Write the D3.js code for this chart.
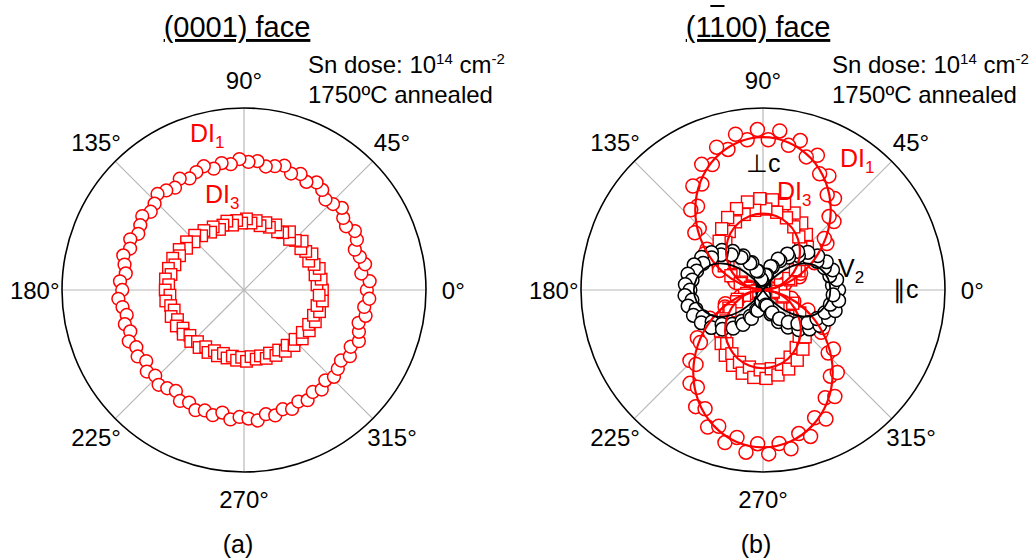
<!DOCTYPE html>
<html>
<head>
<meta charset="utf-8">
<script src="https://cdn.jsdelivr.net/npm/d3@7"></script>
<style>
  body { margin: 0; background: #fff; }
  svg { display: block; font-family: "Liberation Sans", Arial, sans-serif; }
</style>
</head>
<body>
<svg id="chart" width="1034" height="558"></svg>
<script>
// measurement angles (deg), shared by every data series
const angles = [0,4,8,12,16,20,24,28,32,36,40,44,48,52,56,60,64,68,72,76,80,84,88,92,96,100,104,108,112,116,
  120,124,128,132,136,140,144,148,152,156,160,164,168,172,176,180,184,188,192,196,200,204,208,212,216,220,224,228,232,236,
  240,244,248,252,256,260,264,268,272,276,280,284,288,292,296,300,304,308,312,316,320,324,328,332,336,340,344,348,352,356];
const fitAngles = [0,10,20,30,40,50,60,70,80,90,100,110,120,130,140,150,160,170,
  180,190,200,210,220,230,240,250,260,270,280,290,300,310,320,330,340,350];

const tickAngles = [0, 45, 90, 135, 180, 225, 270, 315];
const tickLabels = ['0°', '45°', '90°', '135°', '180°', '225°', '270°', '315°'];

// (0001) face, intensity (outer circle = 100)
const basalDI1 = [67.5,69.2,65.1,68.0,66.2,64.8,67.9,69.0,66.1,67.4,
  70.2,68.0,66.9,69.8,71.3,68.6,70.9,69.0,71.8,70.1,
  68.9,71.2,70.4,72.0,69.5,70.8,68.7,71.5,69.9,68.2,
  70.6,67.8,69.4,71.0,68.3,66.9,69.1,67.2,65.8,68.4,
  66.6,69.0,67.1,65.6,68.3,66.9,69.2,67.4,65.9,68.1,
  66.5,69.3,67.0,68.9,66.4,69.7,67.8,70.1,68.5,66.9,
  70.4,68.8,71.2,69.6,70.9,68.4,71.5,69.8,70.7,72.1,
  69.3,71.0,68.9,70.5,68.2,69.9,67.6,69.4,66.8,68.7,
  67.3,65.9,68.6,66.4,69.1,67.2,65.5,68.3,66.7,69.0];
const basalDI3 = [43.1,40.2,42.8,39.9,43.0,41.0,38.9,42.3,40.0,38.6,
  41.7,39.2,37.4,40.6,38.0,36.9,39.8,37.2,38.9,36.4,
  38.7,37.0,39.1,36.8,38.4,36.2,39.0,37.5,35.9,38.6,
  36.7,39.4,37.8,40.5,38.1,41.2,39.0,42.0,40.1,42.9,
  40.4,43.2,41.0,43.6,41.5,43.3,40.8,43.4,41.2,39.9,
  42.6,40.0,42.1,39.5,41.3,38.8,40.7,38.2,40.1,37.6,
  39.6,37.1,39.0,36.6,38.5,36.9,38.8,37.0,39.2,36.8,
  38.6,37.3,39.5,37.4,40.0,38.1,40.6,38.5,41.1,39.0,
  41.8,39.6,42.3,40.2,42.9,40.6,43.2,41.0,43.5,41.4];

// (1-100) face
const mDI1 = [1.0,2.8,4.6,11.2,12.5,21.3,22.6,32.0,33.1,43.4,
  44.0,54.2,54.3,63.8,63.1,72.4,71.0,79.8,76.9,84.6,
  80.7,87.9,82.6,88.2,83.0,86.9,79.6,82.5,74.3,76.8,
  67.2,68.9,58.4,59.3,48.7,48.9,38.1,37.6,27.3,26.2,
  17.1,15.8,8.1,6.7,1.4,0.8,3.0,4.4,11.5,12.9,
  22.0,22.8,33.1,33.5,44.6,44.9,55.8,55.0,65.1,64.5,
  74.0,72.6,81.2,78.7,86.4,82.3,89.6,84.5,90.1,84.8,
  88.6,81.3,84.6,75.7,78.9,68.4,70.6,60.1,61.0,49.8,
  50.5,39.5,38.9,28.4,27.0,18.0,16.2,8.7,6.9,2.1];
const mDI3 = [0.5,3.6,4.1,9.9,10.0,16.2,15.5,22.4,21.0,28.6,
  26.1,33.9,31.0,38.7,35.2,42.5,38.6,45.6,41.7,48.9,
  43.4,49.8,44.5,50.2,44.0,49.1,42.8,47.0,40.4,44.3,
  37.1,40.6,33.2,36.0,28.9,30.7,23.8,25.1,18.2,19.3,
  12.6,13.0,7.0,6.9,1.8,0.6,2.9,4.6,9.1,10.5,
  15.0,15.9,21.2,21.4,27.0,26.5,32.4,31.2,37.3,35.6,
  41.4,39.0,44.6,41.8,47.1,43.0,48.3,43.9,48.6,43.5,
  47.4,42.1,45.6,39.8,42.9,36.5,39.2,32.3,34.6,27.6,
  29.4,22.3,23.8,16.8,17.9,11.2,11.8,5.7,5.6,1.5];
const mV2 = [41.6,38.2,40.9,37.5,39.8,35.9,38.1,33.6,35.5,30.7,
  32.2,27.1,28.5,22.9,23.9,18.6,18.9,13.7,13.6,8.5,
  8.2,3.3,2.2,0.9,4.8,6.1,10.6,11.2,16.3,16.4,
  21.7,21.5,26.9,26.0,31.4,30.1,35.0,33.3,38.2,36.0,
  40.3,37.9,42.2,39.3,42.8,40.1,43.0,39.4,42.1,38.3,
  40.7,36.1,38.4,33.0,35.1,29.4,31.0,25.3,26.6,20.8,
  21.9,16.1,16.8,11.4,11.6,6.1,6.4,1.3,2.0,3.2,
  8.4,8.9,13.9,13.5,19.4,18.2,24.6,22.5,29.4,26.6,
  33.4,30.5,36.8,33.5,39.4,36.2,41.3,37.8,42.0,38.6];

// fitted curves
const mDI1fit = [0,7.2,18.7,31.8,45.3,57.9,68.7,77.0,82.2,84,82.2,77.0,68.7,57.9,45.3,31.8,18.7,7.2,
  0,7.5,19.3,32.8,46.6,59.6,70.8,79.3,84.7,86.5,84.7,79.3,70.8,59.6,46.6,32.8,19.3,7.5];
const mDI3fit = [0,6.1,12.9,19.6,25.8,31.3,35.9,39.2,41.3,42,41.3,39.2,35.9,31.3,25.8,19.6,12.9,6.1,
  0,6.3,13.2,20.1,26.4,32.1,36.7,40.2,42.3,43,42.3,40.2,36.7,32.1,26.4,20.1,13.2,6.3];
const mV2fit = [37,36.3,33.8,29,20,8,0.5,0,0,0,0,0,0.5,8,20,29,34.2,37,
  38,37,34.2,29.4,20.3,8,0.5,0,0,0,0,0,0.5,8,20,29,33.8,36.3];

const RED = '#ff0000';
const R = 182;
const svg = d3.select('#chart');

const rScale = d3.scaleLinear().domain([0, 100]).range([0, R]);
// polar angle (deg, ccw from +x) -> d3 radial angle (rad, cw from top)
const aScale = d3.scaleLinear().domain([0, 360]).range([Math.PI / 2, Math.PI / 2 - 2 * Math.PI]);
const px = (deg, v) => rScale(v) * Math.cos(deg * Math.PI / 180);
const py = (deg, v) => -rScale(v) * Math.sin(deg * Math.PI / 180);

function pairs(vals) { return angles.map((a, i) => ({ a, v: vals[i] })); }
function fitPairs(vals) { return fitAngles.map((a, i) => ({ a, v: vals[i] })); }

function drawFrame(g) {
  g.selectAll('line.spoke').data(tickAngles).enter().append('line')
    .attr('class', 'spoke')
    .attr('x1', 0).attr('y1', 0)
    .attr('x2', d => px(d, 100)).attr('y2', d => py(d, 100))
    .attr('stroke', '#b8b8b8').attr('stroke-width', 1.2);
  g.append('circle').attr('r', rScale(100))
    .attr('fill', 'none').attr('stroke', '#000').attr('stroke-width', 1.6);
  g.selectAll('text.tick').data(tickAngles).enter().append('text')
    .attr('class', 'tick')
    .attr('x', d => px(d, 115))
    .attr('y', d => py(d, 115) + 8.5)
    .attr('text-anchor', 'middle')
    .attr('font-size', 24)
    .text((d, i) => tickLabels[i]);
}

function drawCircles(g, vals, color, r) {
  g.append('g').selectAll('circle').data(pairs(vals)).enter().append('circle')
    .attr('cx', d => px(d.a, d.v)).attr('cy', d => py(d.a, d.v))
    .attr('r', r)
    .attr('fill', '#fff').attr('stroke', color).attr('stroke-width', 1.5);
}

function drawSquares(g, vals, color, s) {
  g.append('g').selectAll('rect').data(pairs(vals)).enter().append('rect')
    .attr('x', d => px(d.a, d.v) - s / 2).attr('y', d => py(d.a, d.v) - s / 2)
    .attr('width', s).attr('height', s)
    .attr('fill', '#fff').attr('stroke', color).attr('stroke-width', 1.4);
}

function drawFit(g, vals, color, w) {
  const line = d3.lineRadial()
    .angle(d => aScale(d.a))
    .radius(d => rScale(d.v))
    .curve(d3.curveCatmullRomClosed.alpha(0.5));
  g.append('path').attr('d', line(fitPairs(vals)))
    .attr('fill', 'none').attr('stroke', color).attr('stroke-width', w);
}

function label(g, x, y, main, sub, color) {
  const t = g.append('text').attr('x', x).attr('y', y)
    .attr('font-size', 25).attr('fill', color);
  t.append('tspan').text(main);
  if (sub) t.append('tspan').attr('font-size', 17).attr('dy', 6).text(sub);
}

function annotation(x) {
  const t = svg.append('text').attr('x', x).attr('y', 73).attr('font-size', 24);
  t.append('tspan').text('Sn dose: 10');
  t.append('tspan').attr('font-size', 15).attr('dy', -9).text('14');
  t.append('tspan').attr('dy', 9).text(' cm');
  t.append('tspan').attr('font-size', 15).attr('dy', -9).text('-2');
  svg.append('text').attr('x', x).attr('y', 103).attr('font-size', 24).text('1750ºC annealed');
}

function title(x, txt) {
  return svg.append('text').attr('x', x).attr('y', 37)
    .attr('text-anchor', 'middle').attr('font-size', 29)
    .style('text-decoration', 'underline')
    .text(txt);
}

// ---- panel (a): (0001) face
const ga = svg.append('g').attr('transform', 'translate(244,290)');
drawFrame(ga);
drawCircles(ga, basalDI1, RED, 6.4);
drawSquares(ga, basalDI3, RED, 11.5);
title(237, '(0001) face');
annotation(308);
label(svg, 190, 142, 'DI', '1', RED);
label(svg, 205, 203, 'DI', '3', RED);
svg.append('text').attr('x', 238).attr('y', 553).attr('text-anchor', 'middle')
  .attr('font-size', 25).text('(a)');

// ---- panel (b): (1-100) face
const gb = svg.append('g').attr('transform', 'translate(763,290)');
drawFrame(gb);
drawCircles(gb, mDI1, RED, 7);
drawSquares(gb, mDI3, RED, 12);
drawCircles(gb, mV2, '#000', 6.8);
drawFit(gb, mDI1fit, RED, 2.2);
drawFit(gb, mDI3fit, RED, 2.2);
drawFit(gb, mV2fit, '#000', 1.8);

const tb = title(758, '(1100) face');
// bar over the second "1"
const n0 = tb.node();
const s0 = n0.getStartPositionOfChar(2), e0 = n0.getEndPositionOfChar(2);
svg.append('line').attr('x1', s0.x + 1).attr('x2', e0.x - 1)
  .attr('y1', 6).attr('y2', 6).attr('stroke', '#000').attr('stroke-width', 2);

annotation(832);
label(svg, 840, 167, 'DI', '1', RED);
label(svg, 777, 200, 'DI', '3', RED);
label(svg, 838, 277, 'V', '2', '#000');
svg.append('text').attr('x', 746).attr('y', 172).attr('font-size', 25).text('⊥c');
svg.append('text').attr('x', 893).attr('y', 298).attr('font-size', 25).text('∥c');
svg.append('text').attr('x', 756).attr('y', 553).attr('text-anchor', 'middle')
  .attr('font-size', 25).text('(b)');
</script>
</body>
</html>
